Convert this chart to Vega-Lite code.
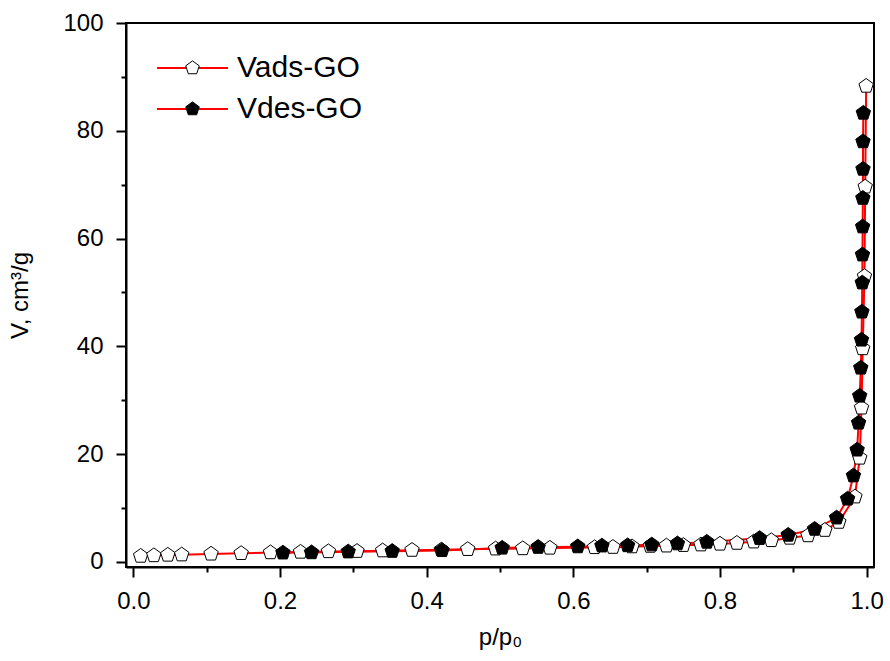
{
  "$schema": "https://vega.github.io/schema/vega-lite/v6.json",
  "autosize": "none",
  "width": 748,
  "height": 544,
  "padding": {"left": 126, "top": 23, "right": 16, "bottom": 94},
  "background": "white",
  "config": {
    "view": {"stroke": "black", "strokeWidth": 2},
    "font": "Liberation Sans"
  },
  "datasets": {
    "iso": [
      {"p": 0.010, "v": 1.1, "s": "Vads-GO"},
      {"p": 0.028, "v": 1.2, "s": "Vads-GO"},
      {"p": 0.047, "v": 1.3, "s": "Vads-GO"},
      {"p": 0.066, "v": 1.35, "s": "Vads-GO"},
      {"p": 0.106, "v": 1.5, "s": "Vads-GO"},
      {"p": 0.147, "v": 1.6, "s": "Vads-GO"},
      {"p": 0.187, "v": 1.75, "s": "Vads-GO"},
      {"p": 0.228, "v": 1.85, "s": "Vads-GO"},
      {"p": 0.266, "v": 1.95, "s": "Vads-GO"},
      {"p": 0.305, "v": 2.0, "s": "Vads-GO"},
      {"p": 0.340, "v": 2.1, "s": "Vads-GO"},
      {"p": 0.380, "v": 2.2, "s": "Vads-GO"},
      {"p": 0.420, "v": 2.25, "s": "Vads-GO"},
      {"p": 0.456, "v": 2.35, "s": "Vads-GO"},
      {"p": 0.494, "v": 2.45, "s": "Vads-GO"},
      {"p": 0.531, "v": 2.5, "s": "Vads-GO"},
      {"p": 0.568, "v": 2.6, "s": "Vads-GO"},
      {"p": 0.629, "v": 2.7, "s": "Vads-GO"},
      {"p": 0.654, "v": 2.75, "s": "Vads-GO"},
      {"p": 0.680, "v": 2.85, "s": "Vads-GO"},
      {"p": 0.705, "v": 2.95, "s": "Vads-GO"},
      {"p": 0.727, "v": 3.0, "s": "Vads-GO"},
      {"p": 0.750, "v": 3.1, "s": "Vads-GO"},
      {"p": 0.774, "v": 3.2, "s": "Vads-GO"},
      {"p": 0.800, "v": 3.35, "s": "Vads-GO"},
      {"p": 0.823, "v": 3.5, "s": "Vads-GO"},
      {"p": 0.846, "v": 3.75, "s": "Vads-GO"},
      {"p": 0.870, "v": 4.0, "s": "Vads-GO"},
      {"p": 0.895, "v": 4.45, "s": "Vads-GO"},
      {"p": 0.920, "v": 4.9, "s": "Vads-GO"},
      {"p": 0.943, "v": 5.9, "s": "Vads-GO"},
      {"p": 0.962, "v": 7.4, "s": "Vads-GO"},
      {"p": 0.984, "v": 12.1, "s": "Vads-GO"},
      {"p": 0.9905, "v": 19.3, "s": "Vads-GO"},
      {"p": 0.993, "v": 28.6, "s": "Vads-GO"},
      {"p": 0.9946, "v": 39.6, "s": "Vads-GO"},
      {"p": 0.997, "v": 53.0, "s": "Vads-GO"},
      {"p": 0.998, "v": 69.6, "s": "Vads-GO"},
      {"p": 0.9993, "v": 88.3, "s": "Vads-GO"},
      {"p": 0.204, "v": 1.7, "s": "Vdes-GO"},
      {"p": 0.243, "v": 1.75, "s": "Vdes-GO"},
      {"p": 0.293, "v": 1.9, "s": "Vdes-GO"},
      {"p": 0.353, "v": 2.0, "s": "Vdes-GO"},
      {"p": 0.421, "v": 2.15, "s": "Vdes-GO"},
      {"p": 0.503, "v": 2.6, "s": "Vdes-GO"},
      {"p": 0.552, "v": 2.75, "s": "Vdes-GO"},
      {"p": 0.606, "v": 2.85, "s": "Vdes-GO"},
      {"p": 0.639, "v": 3.0, "s": "Vdes-GO"},
      {"p": 0.674, "v": 3.05, "s": "Vdes-GO"},
      {"p": 0.707, "v": 3.2, "s": "Vdes-GO"},
      {"p": 0.742, "v": 3.4, "s": "Vdes-GO"},
      {"p": 0.782, "v": 3.7, "s": "Vdes-GO"},
      {"p": 0.854, "v": 4.4, "s": "Vdes-GO"},
      {"p": 0.893, "v": 5.0, "s": "Vdes-GO"},
      {"p": 0.929, "v": 6.1, "s": "Vdes-GO"},
      {"p": 0.959, "v": 8.2, "s": "Vdes-GO"},
      {"p": 0.974, "v": 11.7, "s": "Vdes-GO"},
      {"p": 0.982, "v": 16.0, "s": "Vdes-GO"},
      {"p": 0.987, "v": 20.8, "s": "Vdes-GO"},
      {"p": 0.989, "v": 25.8, "s": "Vdes-GO"},
      {"p": 0.9905, "v": 30.8, "s": "Vdes-GO"},
      {"p": 0.992, "v": 36.0, "s": "Vdes-GO"},
      {"p": 0.993, "v": 41.2, "s": "Vdes-GO"},
      {"p": 0.9935, "v": 46.4, "s": "Vdes-GO"},
      {"p": 0.994, "v": 51.8, "s": "Vdes-GO"},
      {"p": 0.9943, "v": 57.0, "s": "Vdes-GO"},
      {"p": 0.9945, "v": 62.2, "s": "Vdes-GO"},
      {"p": 0.9948, "v": 67.5, "s": "Vdes-GO"},
      {"p": 0.995, "v": 72.9, "s": "Vdes-GO"},
      {"p": 0.995, "v": 78.0, "s": "Vdes-GO"},
      {"p": 0.9955, "v": 83.3, "s": "Vdes-GO"}
    ]
  },
  "data": {"name": "iso"},
  "encoding": {
    "x": {
      "field": "p", "type": "quantitative",
      "scale": {"domain": [-0.01, 1.01], "nice": false, "zero": false},
      "axis": {
        "title": "p/p₀",
        "values": [0, 0.1, 0.2, 0.3, 0.4, 0.5, 0.6, 0.7, 0.8, 0.9, 1.0],
        "labelExpr": "round(datum.value*10) % 2 === 0 ? format(datum.value, '.1f') : ''",
        "grid": false,
        "domainColor": "black", "domainWidth": 2,
        "tickColor": "black", "tickWidth": 2,
        "tickSize": {"condition": {"test": "round(datum.value*10) % 2 === 0", "value": 10}, "value": 5},
        "labelFontSize": 24, "labelColor": "black", "labelPadding": 12,
        "labelFlush": false, "labelOverlap": false,
        "titleFontSize": 24, "titleFontWeight": "normal", "titleColor": "black", "titlePadding": 12
      }
    },
    "y": {
      "field": "v", "type": "quantitative",
      "scale": {"domain": [-0.93, 100], "nice": false, "zero": false},
      "axis": {
        "title": "V, cm³/g",
        "values": [0, 10, 20, 30, 40, 50, 60, 70, 80, 90, 100],
        "labelExpr": "datum.value % 20 === 0 ? format(datum.value, 'd') : ''",
        "grid": false,
        "domainColor": "black", "domainWidth": 2,
        "tickColor": "black", "tickWidth": 2,
        "tickSize": {"condition": {"test": "datum.value % 20 === 0", "value": 10}, "value": 5},
        "labelFontSize": 24, "labelColor": "black", "labelPadding": 13,
        "labelFlush": false, "labelOverlap": false,
        "titleFontSize": 24, "titleFontWeight": "normal", "titleColor": "black", "titlePadding": 30
      }
    }
  },
  "layer": [
    {
      "mark": {"type": "line", "strokeWidth": 2},
      "encoding": {
        "order": {"field": "v", "type": "quantitative"},
        "stroke": {
          "field": "s", "type": "nominal",
          "scale": {"domain": ["Vads-GO", "Vdes-GO"], "range": ["#ff0000", "#ff0000"]},
          "legend": {
            "orient": "none", "legendX": 51.5, "legendY": 30,
            "title": null, "symbolType": "M-5,0H-0.9M0.9,0H5", "symbolSize": 202,
            "symbolStrokeWidth": 2, "labelExpr": "''", "labelFontSize": 30,
            "padding": 0, "rowPadding": 11, "labelOffset": 29.5
          }
        }
      }
    },
    {
      "mark": {"type": "point", "filled": true, "stroke": "black", "strokeWidth": 1, "opacity": 1,
               "shape": "M0,-1L0.951,-0.309L0.588,0.809L-0.588,0.809L-0.951,-0.309Z", "size": 230},
      "encoding": {
        "fill": {
          "field": "s", "type": "nominal",
          "scale": {"range": ["white", "black"]},
          "legend": {
            "orient": "none", "legendX": 51.5, "legendY": 30,
            "title": null,
            "symbolType": "M0,-1L0.951,-0.309L0.588,0.809L-0.588,0.809L-0.951,-0.309Z",
            "symbolSize": 202, "symbolStrokeColor": "black", "symbolStrokeWidth": 1,
            "symbolOpacity": 1,
            "labelFontSize": 30, "labelColor": "black", "labelOffset": 29.5,
            "padding": 0, "rowPadding": 11
          }
        }
      }
    }
  ]
}
